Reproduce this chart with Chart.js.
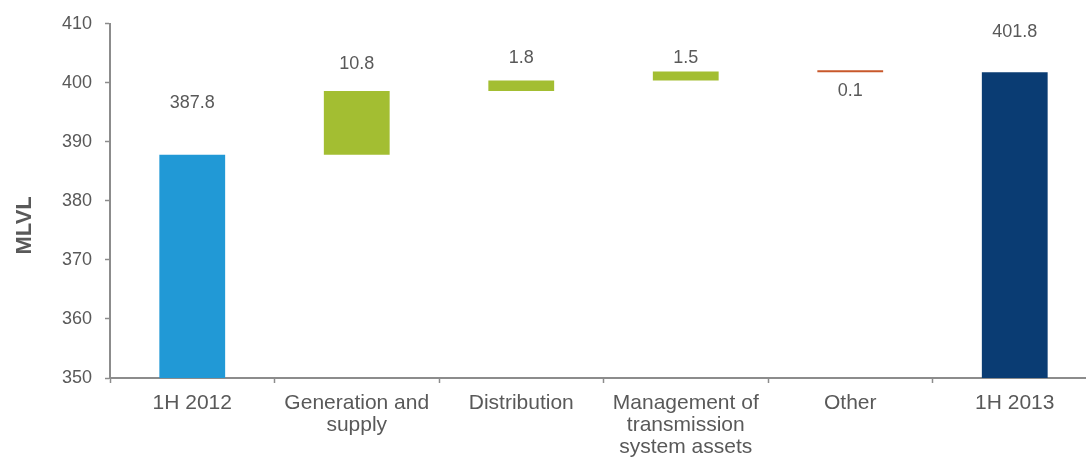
<!DOCTYPE html>
<html>
<head>
<meta charset="utf-8">
<script src="https://cdn.jsdelivr.net/npm/chart.js@4"></script>
<style>
  html, body { margin: 0; padding: 0; background: #fff; overflow: hidden; }
  #wrap { width: 1100px; height: 462px; }
</style>
</head>
<body>
<div id="wrap"><canvas id="chart"></canvas></div>
<script>
// Waterfall: start, changes, end (MLVL)
const categories = ['1H 2012', ['Generation and', 'supply'], 'Distribution', ['Management of', 'transmission', 'system assets'], 'Other', '1H 2013'];
const startValue = 387.8;
const changes = [10.8, 1.8, 1.5, -0.1];
const endValue = 401.8;
const valueLabels = ['387.8', '10.8', '1.8', '1.5', '0.1', '401.8'];

const barColors = ['#2199d6', '#a3be32', '#a3be32', '#a3be32', '#c8582b', '#0a3c73'];
// pixel gap between bar top and its value label (negative = below)
const labelOffsets = [52, 27, 22, 14, -21, 40];

// build floating bars
const bars = [[350, startValue]];
let running = startValue;
changes.forEach(c => {
  bars.push([running, running + c]);
  running += c;
});
bars.push([350, endValue]);

const TEXT = '#595959';
const AXIS = '#8c8c8c';
const FONT = '"Liberation Sans", Arial, sans-serif';

const valueLabelPlugin = {
  id: 'valueLabels',
  afterDatasetsDraw(chart) {
    const { ctx } = chart;
    const meta = chart.getDatasetMeta(0);
    ctx.save();
    ctx.font = '18px ' + FONT;
    ctx.fillStyle = TEXT;
    ctx.textAlign = 'center';
    ctx.textBaseline = 'middle';
    meta.data.forEach((el, i) => {
      const top = Math.min(el.y, el.base);
      ctx.fillText(valueLabels[i], el.x, top - labelOffsets[i]);
    });
    ctx.restore();
  }
};

new Chart(document.getElementById('chart'), {
  type: 'bar',
  data: {
    labels: categories,
    datasets: [{
      data: bars,
      backgroundColor: barColors,
      borderWidth: 0,
      barPercentage: 0.4,
      categoryPercentage: 1,
      minBarLength: 2,
    }],
  },
  options: {
    responsive: true,
    maintainAspectRatio: false,
    animation: false,
    layout: { padding: { top: 19, right: 3, bottom: 0, left: 0 } },
    plugins: {
      legend: { display: false },
      tooltip: { enabled: false },
    },
    scales: {
      x: {
        grid: {
          drawOnChartArea: false,
          tickLength: 5,
          tickColor: AXIS,
          tickWidth: 1.5,
          offset: true,
        },
        border: { color: AXIS, width: 2 },
        ticks: {
          color: TEXT,
          font: { family: FONT, size: 21, lineHeight: 1.05 },
          padding: 9,
          maxRotation: 0,
          autoSkip: false,
        },
        afterFit(scale) { scale.height = 84; },
      },
      y: {
        min: 350,
        max: 410,
        ticks: {
          stepSize: 10,
          color: TEXT,
          font: { family: FONT, size: 18 },
          padding: 13,
        },
        grid: {
          drawOnChartArea: false,
          tickLength: 5,
          tickColor: AXIS,
          tickWidth: 1.5,
        },
        border: { color: AXIS, width: 2 },
        title: {
          display: true,
          // trailing spaces push the rotated title down to where it sits in the source
          text: 'MLVL        ',
          color: TEXT,
          font: { family: FONT, size: 22, weight: 'bold' },
          padding: { top: 12, bottom: 0 },
        },
        afterFit(scale) { scale.width = 110; },
      },
    },
  },
  plugins: [valueLabelPlugin],
});
</script>
</body>
</html>
